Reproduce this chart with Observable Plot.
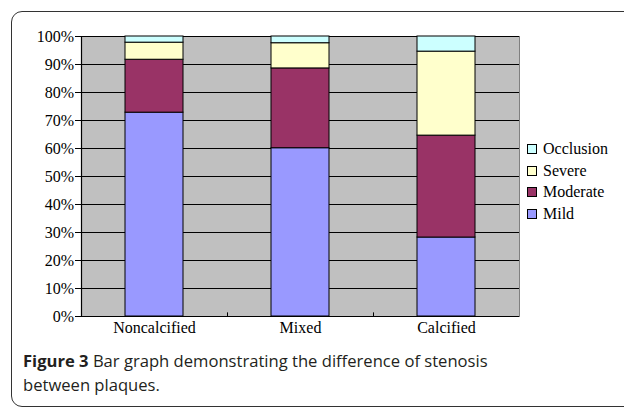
<!DOCTYPE html>
<html>
<head>
<meta charset="utf-8">
<script src="https://cdn.jsdelivr.net/npm/d3@7"></script>
<script src="https://cdn.jsdelivr.net/npm/@observablehq/plot@0.6"></script>
<style>
  html, body { margin: 0; padding: 0; background: #fff; }
  #wrap { position: relative; width: 624px; height: 408px; overflow: hidden; }
  #box { position: absolute; left: 11px; top: 11px; width: 700px; height: 394px; border: 1.5px solid #333; border-radius: 11px; }
  #chart { position: absolute; left: 0; top: 0; }
  #legend { position: absolute; left: 527px; top: 138px; font-family: "Liberation Serif", serif; font-size: 16px; color: #000; }
  #legend .item { display: flex; align-items: center; height: 21.7px; }
  #legend .sw { width: 8px; height: 8px; border: 1px solid #000; margin-right: 6px; }
  #caption { position: absolute; left: 23px; top: 349px; width: 595px; font-family: "Open Sans", sans-serif; font-size: 16.6px; line-height: 24px; color: #231f20; white-space: nowrap; }
  #caption b { font-weight: 700; }
</style>
</head>
<body>
<div id="wrap">
  <div id="box"></div>
  <div id="chart"></div>
  <div id="legend"></div>
  <div id="caption"><b>Figure 3</b> Bar graph demonstrating the difference of stenosis<br>between plaques.</div>
</div>
<script>
const categories = ["Noncalcified", "Mixed", "Calcified"];
const series = ["Mild", "Moderate", "Severe", "Occlusion"];
const colors = ["#9999ff", "#993366", "#ffffcc", "#ccffff"];
const mild = [72.8, 60.1, 28.2];
const moderate = [18.9, 28.5, 36.4];
const severe = [6.1, 9.0, 30.0];
const occlusion = [2.2, 2.4, 5.4];
const yTicks = [0, 10, 20, 30, 40, 50, 60, 70, 80, 90, 100];

const valuesBySeries = [mild, moderate, severe, occlusion];
const data = [];
series.forEach((s, i) => categories.forEach((c, j) => data.push({category: c, series: s, value: valuesBySeries[i][j]})));

const width = 624, height = 345;
const mL = 81, mR = 105;
const step = (width - mL - mR) / categories.length;

const chart = Plot.plot({
  width, height,
  marginLeft: mL, marginRight: mR, marginTop: 36, marginBottom: 29,
  style: {background: "transparent", fontFamily: "Liberation Serif, serif", fontSize: "16px", color: "#000"},
  x: {domain: categories, paddingInner: 0.6, paddingOuter: 0.3, label: null},
  y: {domain: [0, 100], label: null},
  color: {domain: series, range: colors},
  marks: [
    Plot.frame({fill: "#c0c0c0", stroke: "#808080", strokeWidth: 1}),
    Plot.ruleY(yTicks.slice(1), {stroke: "#000", strokeWidth: 1}),
    Plot.barY(data, {x: "category", y: "value", fill: "series", z: "series", stroke: "#000", strokeWidth: 1, inset: 0}),
    Plot.ruleY([0], {stroke: "#000", strokeWidth: 1.2}),
    Plot.frame({anchor: "left", stroke: "#000", strokeWidth: 1.2}),
    Plot.ruleX(categories.slice(1), {x: d => d, dx: -step / 2, y1: 0, y2: 1.3, stroke: "#000"}),
    Plot.axisY({ticks: yTicks, tickFormat: d => d + "%", tickSize: 6, tickPadding: 1.5, fontSize: 16, stroke: "#000", strokeOpacity: 1}),
    Plot.axisX({tickSize: 0, tickPadding: 5, fontSize: 16})
  ]
});
document.getElementById("chart").appendChild(chart);

const legend = d3.select("#legend");
series.slice().reverse().forEach(s => {
  const it = legend.append("div").attr("class", "item");
  it.append("div").attr("class", "sw").style("background", colors[series.indexOf(s)]);
  it.append("span").text(s);
});
</script>
</body>
</html>
